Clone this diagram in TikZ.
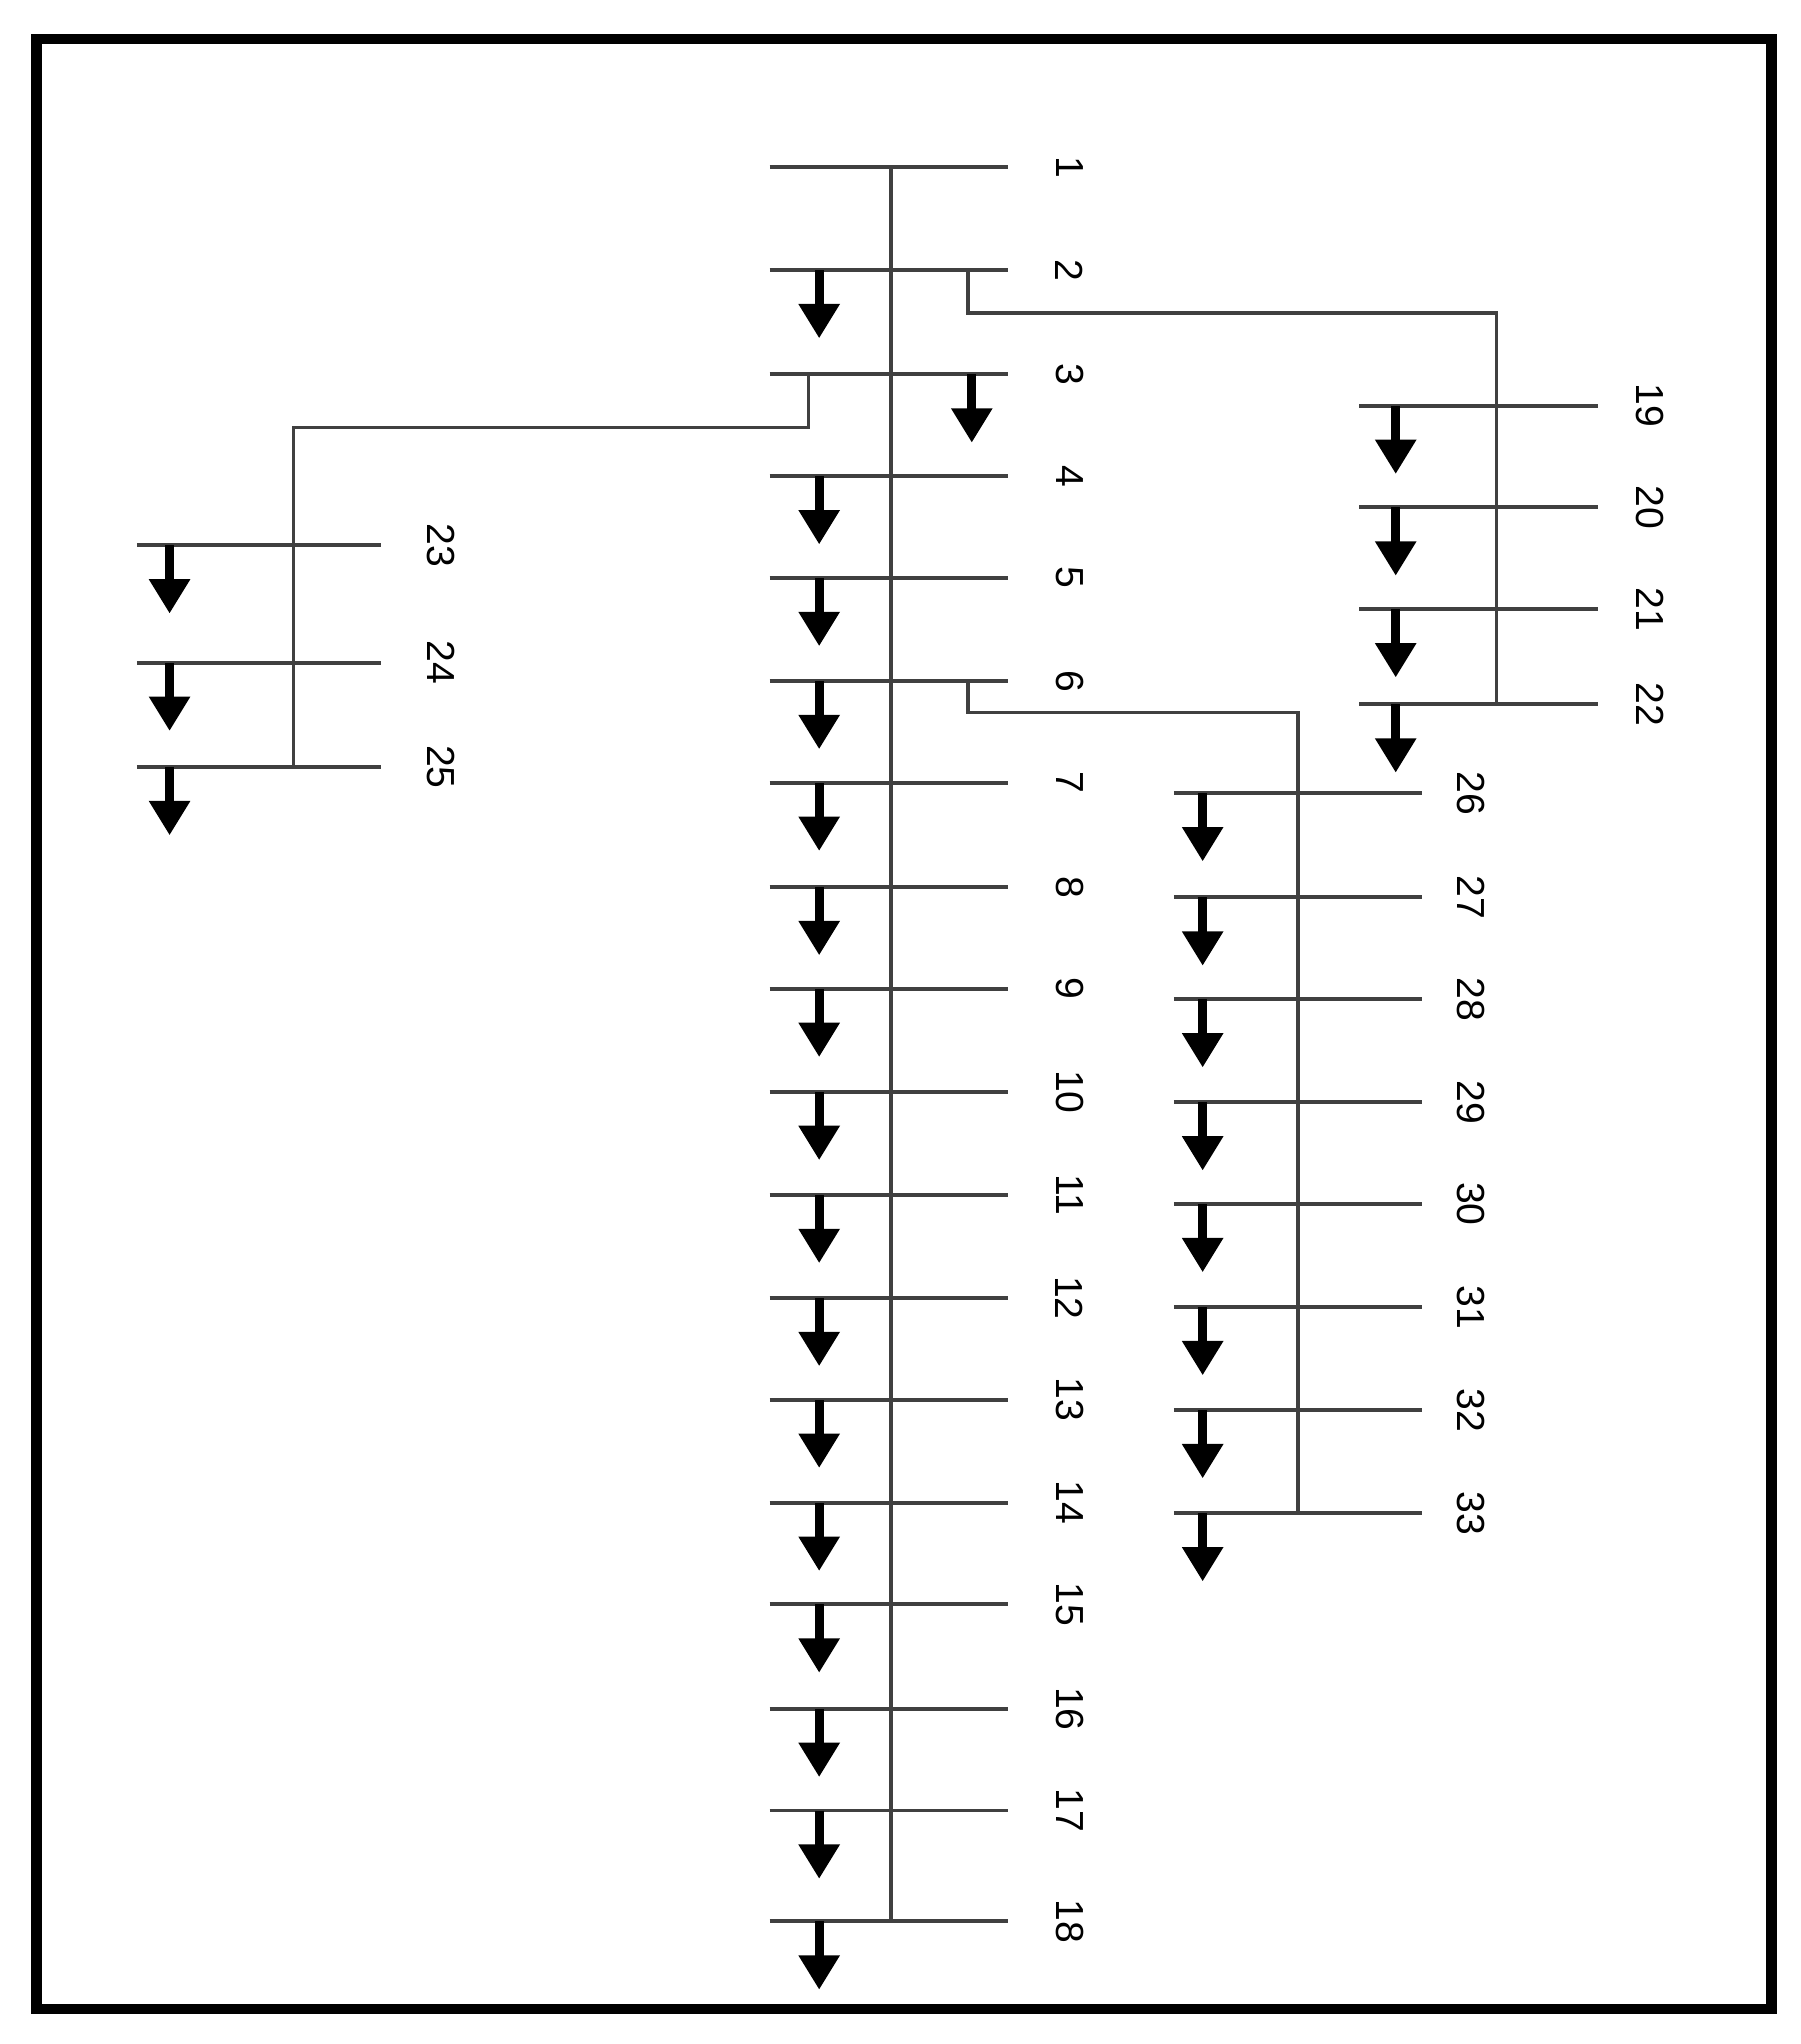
\documentclass[tikz,border=0pt]{standalone}
\usepackage{fontspec}
\setmainfont{Liberation Sans}
\begin{document}
\begin{tikzpicture}[x=1pt,y=-1pt,
  bus/.style={line width=3pt,draw=black!75},
  wire/.style={line width=2.5pt,draw=black!75},
  lbl/.style={font=\fontsize{30}{30}\selectfont,rotate=-90,inner sep=0pt},
  load/.style={}]
\useasboundingbox (0,0) rectangle (1380,1567);
\draw[line width=8pt] (28,30) rectangle (1358,1540);
\newcommand{\ld}[2]{\fill (#1-3.5,#2) rectangle (#1+3.5,#2+28);
  \fill (#1-16,#2+26) -- (#1+16,#2+26) -- (#1,#2+52) -- cycle;}
% main feeder
\foreach \i/\y in {1/128,2/207,3/287,4/365,5/443,6/522,7/600,8/680,9/758,10/837,11/916,12/995,13/1073,14/1152,15/1230,16/1310,17/1388,18/1473}{
  \coordinate (b\i) at (683,\y);
  \draw[bus] (590,\y) -- (773,\y);
  \node[lbl] (l\i) at (820,\y) {\i};
}
\foreach \y in {207,365,443,522,600,680,758,837,916,995,1073,1152,1230,1310,1388,1473}{\ld{628}{\y}}
\ld{745}{287}
\draw[wire] (b1) -- (b18);
% lateral 2
\foreach \i/\y in {19/311,20/389,21/467,22/540}{
  \coordinate (b\i) at (1147,\y);
  \draw[bus] (1042,\y) -- (1225,\y);
  \node[lbl] (l\i) at (1265,\y) {\i};
  \ld{1070}{\y}
}
\draw[wire] (742,207) -- (742,240) -- (1147,240) -- (b22);
% lateral 3
\foreach \i/\y in {23/418,24/508,25/588}{
  \coordinate (b\i) at (225,\y);
  \draw[bus] (105,\y) -- (292,\y);
  \node[lbl] (l\i) at (338,\y) {\i};
  \ld{130}{\y}
}
\draw[wire] (620,287) -- (620,328) -- (225,328) -- (b25);
% lateral 6
\foreach \i/\y in {26/608,27/688,28/766,29/845,30/923,31/1002,32/1081,33/1160}{
  \coordinate (b\i) at (995,\y);
  \draw[bus] (900,\y) -- (1090,\y);
  \node[lbl] (l\i) at (1128,\y) {\i};
  \ld{922}{\y}
}
\draw[wire] (742,522) -- (742,546) -- (995,546) -- (b33);
\end{tikzpicture}
\end{document}
